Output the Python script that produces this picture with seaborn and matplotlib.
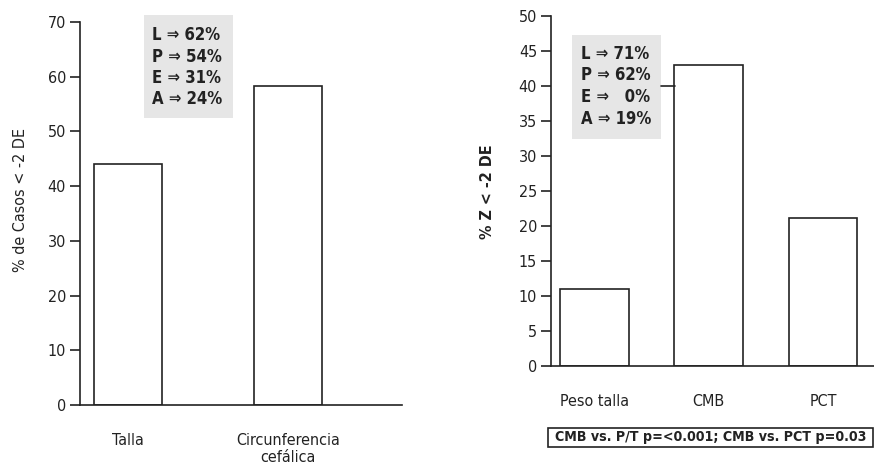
import matplotlib
matplotlib.use("Agg")
import matplotlib.pyplot as plt
import seaborn as sns
from matplotlib.patches import Rectangle
from matplotlib.lines import Line2D

# left panel data
cats_left = ["Talla", "Circunferencia\ncefálica"]
vals_left = [44, 58.3]
box_left_lines = ["L \u21d2 62%", "P \u21d2 54%", "E \u21d2 31%", "A \u21d2 24%"]

# right panel data
cats_right = ["Peso talla", "CMB", "PCT"]
vals_right = [11, 43, 21.1]
box_right_lines = ["L \u21d2 71%", "P \u21d2 62%", "E \u21d2 \u20070%", "A \u21d2 19%"]
note_text = "CMB vs. P/T p=<0.001; CMB vs. PCT p=0.03"

sns.set_style("ticks")
plt.rcParams["font.family"] = ["DejaVu Sans"]
plt.rcParams["font.stretch"] = "condensed"
plt.rcParams["text.color"] = "#222222"

W, H = 874, 468
fig = plt.figure(figsize=(W / 100, H / 100), dpi=100)


def fx(px):
    return px / W


def fy(py):
    return 1 - py / H


def style_axes(ax, ymax, step):
    ax.set_ylim(0, ymax)
    ax.set_yticks(range(0, ymax + 1, step))
    sns.despine(ax=ax)
    for s in ["left", "bottom"]:
        ax.spines[s].set_linewidth(1.2)
        ax.spines[s].set_color("#222222")
    ax.tick_params(axis="y", length=7, width=1.2, labelsize=11.5, colors="#222222", pad=3)
    ax.tick_params(axis="x", length=0, labelsize=11.5, pad=20, colors="#222222")
    ax.set_xlabel("")
    ax.set_ylabel("")


# ---- left panel
ax1 = fig.add_axes([fx(80), fy(405), fx(402) - fx(80), fy(22) - fy(405)])
sns.barplot(x=cats_left, y=vals_left, color="white", edgecolor="#222222",
            linewidth=1.2, width=0.43, saturation=1, ax=ax1)
ax1.set_xlim(-0.3, 1.7125)
style_axes(ax1, 70, 10)
fig.text(fx(21), fy(200), "% de Casos < -2 DE", rotation=90, ha="center",
         va="center", fontsize=11.5)

fig.add_artist(Rectangle((fx(144), fy(118)), fx(233) - fx(144), fy(15) - fy(118),
                         transform=fig.transFigure, facecolor="#e6e6e6",
                         edgecolor="none"))
for i, line in enumerate(box_left_lines):
    fig.text(fx(152), fy(35 + i * 21.5), line, ha="left", va="center",
             fontsize=12, fontweight="bold")

# ---- right panel
ax2 = fig.add_axes([fx(551), fy(366), fx(874) - fx(551), fy(16) - fy(366)])
sns.barplot(x=cats_right, y=vals_right, color="white", edgecolor="#222222",
            linewidth=1.2, width=0.6, saturation=1, ax=ax2)
ax2.set_xlim(-0.38, 2.445)
style_axes(ax2, 50, 5)
fig.text(fx(487), fy(192), "% Z < -2 DE", rotation=90, ha="center",
         va="center", fontsize=11.5, fontweight="bold")

fig.add_artist(Rectangle((fx(572), fy(139)), fx(661) - fx(572), fy(35) - fy(139),
                         transform=fig.transFigure, facecolor="#e6e6e6",
                         edgecolor="none"))
for i, line in enumerate(box_right_lines):
    fig.text(fx(581), fy(54 + i * 21.5), line, ha="left", va="center",
             fontsize=12, fontweight="bold")

# leader line from box to CMB bar at 40
y40 = ax2.transData.transform((0, 40))[1] / H
fig.add_artist(Line2D([fx(661), fx(675)], [y40, y40], transform=fig.transFigure,
                      color="#222222", linewidth=1.2))

# note box at bottom
fig.add_artist(Rectangle((fx(548), fy(447)), fx(872.5) - fx(548), fy(428) - fy(447),
                         transform=fig.transFigure, facecolor="white",
                         edgecolor="#222222", linewidth=1.2))
fig.text(fx(711), fy(437.5), note_text, ha="center", va="center", fontsize=10.2,
         fontweight="bold")

fig.savefig("out.png", dpi=100)
